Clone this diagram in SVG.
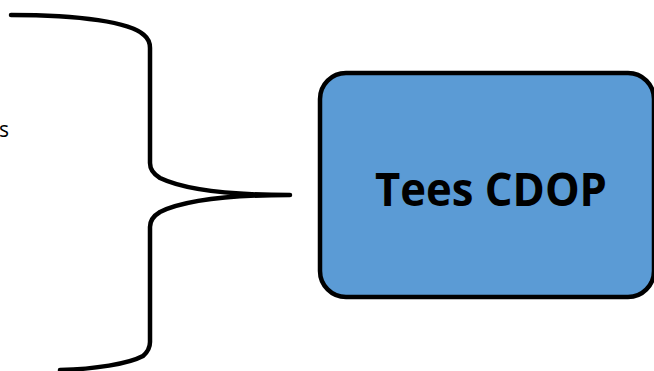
<svg xmlns="http://www.w3.org/2000/svg" width="654" height="371" viewBox="0 0 654 371">
<style>
.brace{fill:none;stroke:#000;stroke-width:4.5;stroke-linecap:round;stroke-linejoin:round}
.box{fill:#5B9BD5;stroke:#000;stroke-width:4.5}
.lbl{font-family:"Open Sans","Liberation Sans",sans-serif;font-size:21px;fill:#000}
.title{font-family:"Open Sans","Liberation Sans",sans-serif;font-weight:bold;font-size:46px;fill:#000}
</style>
<g id="label-left"><text class="lbl" x="-1" y="137">s</text></g>
<g id="connectors">
<path class="brace" d="M11,15 C80,15 130,22 144,35 Q150,40 150,48 L150,163 Q150,172 160,178 C185,190 230,195 290,195 C230,195 185,200 160,212 Q150,218 150,227 L150,342 Q150,350 143,356 C128,364 95,369 60,370"/>
</g>
<g id="tees-cdop">
<rect class="box" x="320" y="73" width="334" height="224" rx="26" ry="26"/>
<text class="title" x="491" y="206" text-anchor="middle" textLength="232" lengthAdjust="spacingAndGlyphs">Tees CDOP</text>
</g>
</svg>
